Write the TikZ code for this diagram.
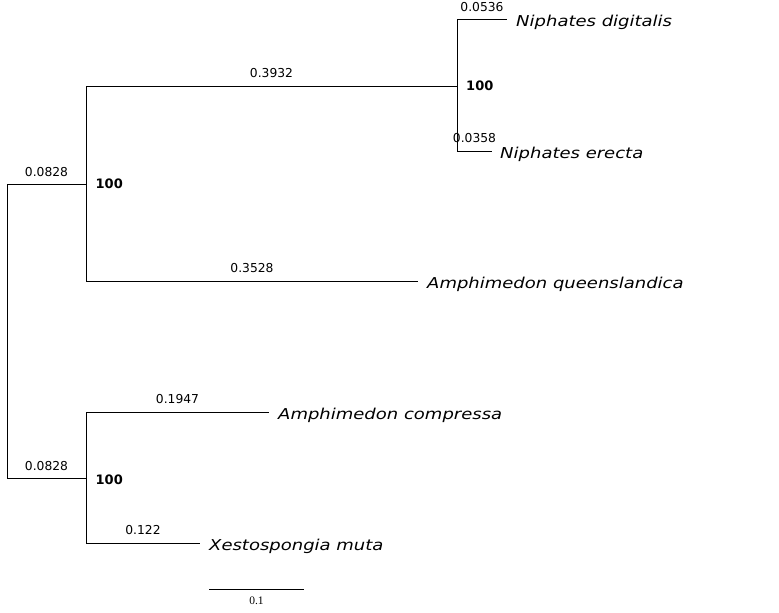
\documentclass[tikz,border=0pt]{standalone}
\usepackage{fontspec}
\usetikzlibrary{calc}
\setmainfont{DejaVu Sans}
\newfontfamily\taxfont[FakeStretch=1.2]{DejaVu Sans Oblique}
\newfontfamily\scalefont{Liberation Serif}
\begin{document}
\begin{tikzpicture}[x=1pt,y=-1pt,
  branch/.style={line width=0.9pt,black},
  blen/.style={font=\fontsize{12.3}{13}\selectfont, inner sep=0pt, anchor=base},
  taxon/.style={font=\taxfont\fontsize{15}{16}\selectfont, inner sep=0pt, anchor=base west},
  support/.style={font=\bfseries\fontsize{13}{14}\selectfont, inner sep=0pt, anchor=west},
  scalelab/.style={font=\scalefont\fontsize{11.5}{12}\selectfont, inner sep=0pt, anchor=base}]
\useasboundingbox (0,0) rectangle (779,613);
% internal coordinates
\coordinate (rootT) at (7,184);
\coordinate (rootB) at (7,478);
\coordinate (A) at (86,184);
\coordinate (A1) at (86,86);
\coordinate (A2) at (86,281);
\coordinate (N) at (457,86);
\coordinate (N1) at (457,19.5);
\coordinate (N2) at (457,151);
\coordinate (B) at (86,478);
\coordinate (B1) at (86,412);
\coordinate (B2) at (86,543);
% tips
\coordinate (tND) at (507,19.5);
\coordinate (tNE) at (492,151);
\coordinate (tAQ) at (418,281);
\coordinate (tAC) at (269,412);
\coordinate (tXM) at (200,543);
% scale bar
\coordinate (s1) at (209,589);
\coordinate (s2) at (304,589);

% branches
\draw[branch] (rootT) -- (rootB);
\draw[branch] (rootT) -- (A);
\draw[branch] (rootB) -- (B);
\draw[branch] (A1) -- (A2);
\draw[branch] (A1) -- (N);
\draw[branch] (N1) -- (N2);
\draw[branch] (N1) -- (tND);
\draw[branch] (N2) -- (tNE);
\draw[branch] (A2) -- (tAQ);
\draw[branch] (B1) -- (B2);
\draw[branch] (B1) -- (tAC);
\draw[branch] (B2) -- (tXM);
\draw[branch] (s1) -- (s2);

% branch lengths
\node[blen] (lRA) at ($(rootT)!0.5!(A)+(0,-7.5)$) {0.0828};
\node[blen] (lRB) at ($(rootB)!0.5!(B)+(0,-7.5)$) {0.0828};
\node[blen] (lAN) at ($(A1)!0.5!(N)+(0,-8.5)$) {0.3932};
\node[blen] (lND) at ($(N1)!0.5!(tND)+(0,-8.5)$) {0.0536};
\node[blen] (lNE) at ($(N2)!0.5!(tNE)+(0,-8.5)$) {0.0358};
\node[blen] (lAQ) at ($(A2)!0.5!(tAQ)+(0,-8.5)$) {0.3528};
\node[blen] (lAC) at ($(B1)!0.5!(tAC)+(0,-8.5)$) {0.1947};
\node[blen] (lXM) at ($(B2)!0.5!(tXM)+(0,-8.5)$) {0.122};

% supports
\node[support] (sA) at ($(A)+(9.5,0)$) {100};
\node[support] (sN) at ($(N)+(9,0)$) {100};
\node[support] (sB) at ($(B)+(9.5,1.5)$) {100};

% taxa
\node[taxon] (ND) at ($(tND)+(9,7)$) {Niphates digitalis};
\node[taxon] (NE) at ($(tNE)+(8,7)$) {Niphates erecta};
\node[taxon] (AQ) at ($(tAQ)+(9,7)$) {Amphimedon queenslandica};
\node[taxon] (AC) at ($(tAC)+(9,7)$) {Amphimedon compressa};
\node[taxon] (XM) at ($(tXM)+(9,7)$) {Xestospongia muta};

% scale label
\node[scalelab] (sl) at ($(s1)!0.5!(s2)+(0,15)$) {0.1};
\end{tikzpicture}
\end{document}
